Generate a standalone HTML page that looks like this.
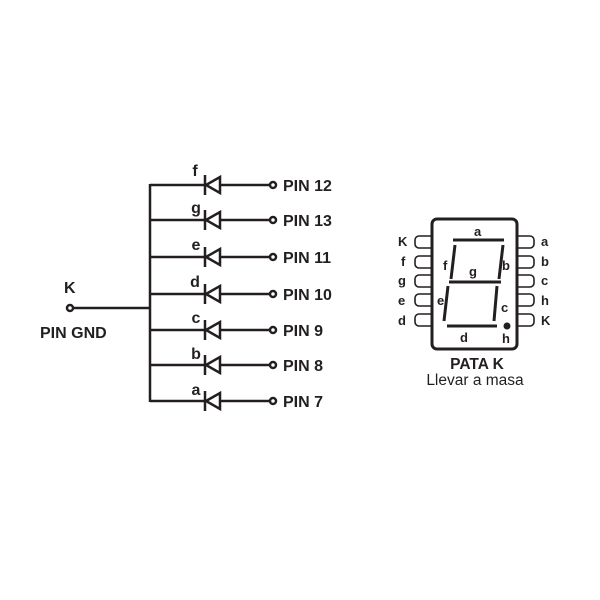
<!DOCTYPE html>
<html><head><style>body{margin:0;background:#fff}svg{display:block}</style></head><body>
<svg width="600" height="600" viewBox="0 0 600 600" xmlns="http://www.w3.org/2000/svg" font-family="Liberation Sans, Arial, sans-serif" font-weight="bold" fill="#231f20">
<g stroke="#231f20" stroke-width="2.5" fill="none">
<line x1="150" y1="184" x2="150" y2="402"/>
<line x1="73" y1="308" x2="150" y2="308"/>
<circle cx="70" cy="308" r="3" fill="#fff"/>
</g>
<g stroke="#231f20" stroke-width="2.5" fill="none">
<g transform="translate(0,185)"><line x1="150" y1="0" x2="270" y2="0"/><line x1="205" y1="-10" x2="205" y2="10"/><polygon points="206,0 220,-8 220,8" fill="#fff"/><circle cx="273" cy="0" r="3" fill="#fff"/></g>
<g transform="translate(0,220)"><line x1="150" y1="0" x2="270" y2="0"/><line x1="205" y1="-10" x2="205" y2="10"/><polygon points="206,0 220,-8 220,8" fill="#fff"/><circle cx="273" cy="0" r="3" fill="#fff"/></g>
<g transform="translate(0,257)"><line x1="150" y1="0" x2="270" y2="0"/><line x1="205" y1="-10" x2="205" y2="10"/><polygon points="206,0 220,-8 220,8" fill="#fff"/><circle cx="273" cy="0" r="3" fill="#fff"/></g>
<g transform="translate(0,294)"><line x1="150" y1="0" x2="270" y2="0"/><line x1="205" y1="-10" x2="205" y2="10"/><polygon points="206,0 220,-8 220,8" fill="#fff"/><circle cx="273" cy="0" r="3" fill="#fff"/></g>
<g transform="translate(0,330)"><line x1="150" y1="0" x2="270" y2="0"/><line x1="205" y1="-10" x2="205" y2="10"/><polygon points="206,0 220,-8 220,8" fill="#fff"/><circle cx="273" cy="0" r="3" fill="#fff"/></g>
<g transform="translate(0,365)"><line x1="150" y1="0" x2="270" y2="0"/><line x1="205" y1="-10" x2="205" y2="10"/><polygon points="206,0 220,-8 220,8" fill="#fff"/><circle cx="273" cy="0" r="3" fill="#fff"/></g>
<g transform="translate(0,401)"><line x1="150" y1="0" x2="270" y2="0"/><line x1="205" y1="-10" x2="205" y2="10"/><polygon points="206,0 220,-8 220,8" fill="#fff"/><circle cx="273" cy="0" r="3" fill="#fff"/></g>
</g>
<g font-size="16">
<text x="283" y="191">PIN 12</text><text x="283" y="226">PIN 13</text><text x="283" y="263">PIN 11</text><text x="283" y="300">PIN 10</text><text x="283" y="336">PIN 9</text><text x="283" y="371">PIN 8</text><text x="283" y="407">PIN 7</text>
<text x="64" y="293">K</text><text x="40" y="338">PIN GND</text>
</g>
<g font-size="16" text-anchor="middle">
<text x="195" y="176">f</text><text x="196" y="213">g</text><text x="196" y="250">e</text><text x="195" y="287">d</text><text x="196" y="323">c</text><text x="196" y="359">b</text><text x="196" y="395">a</text>
</g>
<rect x="432" y="219" width="85" height="130" rx="5" fill="none" stroke="#231f20" stroke-width="3"/>
<g stroke="#231f20" stroke-width="1.6" fill="none">
<path d="M432,236 H419 a4,4 0 0 0 -4,4 v4 a4,4 0 0 0 4,4 H432"/>
<path d="M432,256 H419 a4,4 0 0 0 -4,4 v4 a4,4 0 0 0 4,4 H432"/>
<path d="M432,275 H419 a4,4 0 0 0 -4,4 v4 a4,4 0 0 0 4,4 H432"/>
<path d="M432,294 H419 a4,4 0 0 0 -4,4 v4 a4,4 0 0 0 4,4 H432"/>
<path d="M432,314 H419 a4,4 0 0 0 -4,4 v4 a4,4 0 0 0 4,4 H432"/>
<path d="M517,236 H530 a4,4 0 0 1 4,4 v4 a4,4 0 0 1 -4,4 H517"/>
<path d="M517,256 H530 a4,4 0 0 1 4,4 v4 a4,4 0 0 1 -4,4 H517"/>
<path d="M517,275 H530 a4,4 0 0 1 4,4 v4 a4,4 0 0 1 -4,4 H517"/>
<path d="M517,294 H530 a4,4 0 0 1 4,4 v4 a4,4 0 0 1 -4,4 H517"/>
<path d="M517,314 H530 a4,4 0 0 1 4,4 v4 a4,4 0 0 1 -4,4 H517"/>
</g>
<g stroke="#231f20" stroke-width="3" fill="none">
<line x1="453" y1="240" x2="504" y2="240"/>
<line x1="455" y1="245" x2="451" y2="279"/>
<line x1="503" y1="245" x2="499" y2="279"/>
<line x1="449" y1="282" x2="501" y2="282"/>
<line x1="448" y1="286" x2="444" y2="321"/>
<line x1="497" y1="286" x2="494" y2="321"/>
<line x1="447" y1="326" x2="497" y2="326"/>
</g>
<circle cx="507" cy="326" r="3.5"/>
<g font-size="13">
<text x="398" y="246">K</text><text x="401" y="266">f</text><text x="398" y="285">g</text><text x="398" y="305">e</text><text x="398" y="325">d</text>
<text x="541" y="246">a</text><text x="541" y="266">b</text><text x="541" y="285">c</text><text x="541" y="305">h</text><text x="541" y="325">K</text>
<text x="474" y="236">a</text><text x="443" y="270">f</text><text x="502" y="270">b</text><text x="469" y="276">g</text><text x="437" y="305">e</text><text x="501" y="312">c</text><text x="460" y="342">d</text><text x="502" y="343">h</text>
</g>
<text x="477" y="369" font-size="15.5" text-anchor="middle">PATA K</text>
<text x="475" y="385" font-size="15.5" font-weight="normal" text-anchor="middle">Llevar a masa</text>
</svg>
</body></html>
